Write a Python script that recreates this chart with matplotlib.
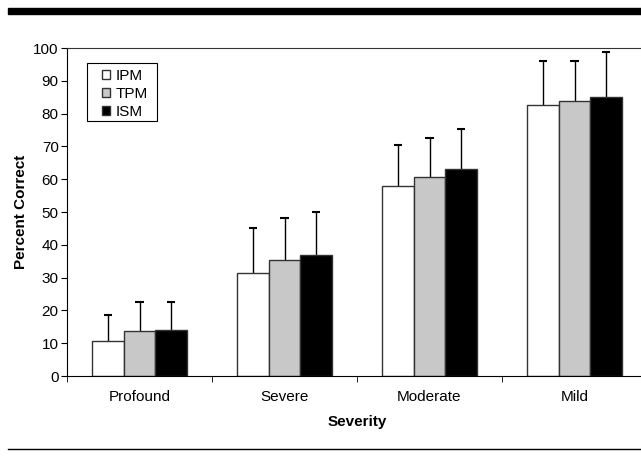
import numpy as np
import matplotlib.pyplot as plt
from matplotlib.lines import Line2D
from matplotlib.patches import Rectangle

# Datos
categories = ['Profound', 'Severe', 'Moderate', 'Mild']
series = ['IPM', 'TPM', 'ISM']
ipm = [10.8, 31.5, 58.0, 82.7]
tpm = [13.6, 35.3, 60.6, 83.8]
ism = [14.1, 36.9, 63.0, 85.2]
ipm_err = [7.9, 13.5, 12.3, 13.4]
tpm_err = [8.9, 12.8, 12.0, 12.3]
ism_err = [8.5, 13.2, 12.2, 13.5]

plt.rcParams['font.family'] = ['Liberation Sans', 'DejaVu Sans']

fig = plt.figure(figsize=(6.41, 4.57), dpi=100)
ax = fig.add_axes([67 / 641, 1 - 376 / 457, 580 / 641, 328 / 457])

x = np.arange(len(categories))
w = 0.22
colors = ['white', '#c8c8c8', 'black']
vals = [ipm, tpm, ism]
errs = [ipm_err, tpm_err, ism_err]
for i, (v, e, c, lab) in enumerate(zip(vals, errs, colors, series)):
    pos = x + (i - 1) * w
    top = np.array(v) + np.array(e)
    ax.bar(pos, v, w, color=c, edgecolor='#333333', linewidth=1.0, label=lab, zorder=2)
    # solo la barra de error superior
    ax.vlines(pos, v, top, color='black', linewidth=1.0, zorder=1)
    ax.hlines(top, pos - 0.028, pos + 0.028, color='black', linewidth=1.5, zorder=1)

ax.set_xlim(-0.5, 3.5)
ax.set_ylim(0, 100)
ax.set_yticks(np.arange(0, 101, 10))
ax.set_xticks(x)
ax.set_xticklabels(categories, fontsize=11)
ax.set_xticks(np.arange(-0.5, 3.6, 1), minor=True)
ax.tick_params(axis='x', which='major', length=0, pad=10)
ax.tick_params(axis='x', which='minor', length=4, direction='out')
ax.tick_params(axis='y', length=4, direction='out', labelsize=11, pad=2)
ax.spines['right'].set_visible(False)
ax.spines['top'].set_color('#333333')

ax.set_xlabel('Severity', fontsize=11, fontweight='bold', labelpad=8)
ax.set_ylabel('Percent Correct', fontsize=11, fontweight='bold', labelpad=4)

leg = ax.legend(loc='upper left', bbox_to_anchor=(0.0603, 0.937), fontsize=11,
                frameon=False, borderaxespad=0, borderpad=0,
                handlelength=0.5, handleheight=0.5, handletextpad=0.4,
                labelspacing=0.28)
# marco de la leyenda dibujado aparte (más ancho que alto en el original)
ax.add_patch(Rectangle((0.034, 0.777), 0.1217, 0.177, transform=ax.transAxes,
                       fill=False, edgecolor='black', linewidth=0.8, zorder=5))

# barras decorativas arriba y abajo
fig.add_artist(Rectangle((8 / 641, 1 - 14 / 457), 633 / 641, 6 / 457,
                         transform=fig.transFigure, color='black'))
fig.add_artist(Line2D([8 / 641, 1], [1 - 449 / 457] * 2,
                      transform=fig.transFigure, color='black', linewidth=1))

fig.savefig('out.png', dpi=100)
